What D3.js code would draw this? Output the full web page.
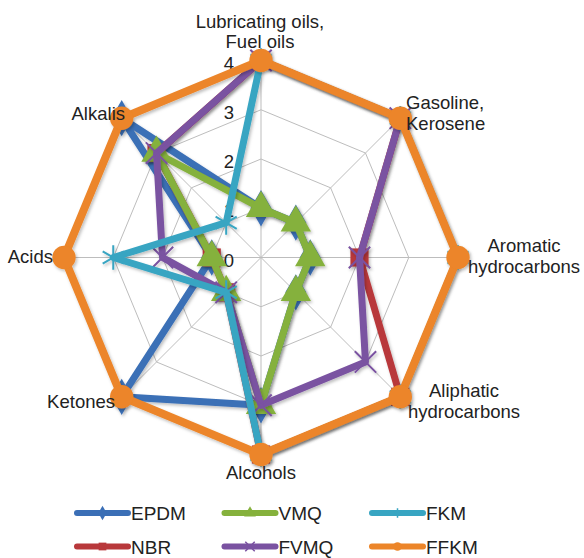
<!DOCTYPE html>
<html>
<head>
<meta charset="utf-8">
<script src="https://cdn.jsdelivr.net/npm/d3@7"></script>
<style>
  html, body { margin: 0; padding: 0; background: #fff; }
  svg { display: block; font-family: "Liberation Sans", Arial, sans-serif; }
</style>
</head>
<body>
<svg id="chart" width="584" height="558"></svg>
<script>
// Media categories, clockwise from the top
const categories = [
  ["Lubricating oils,", "Fuel oils"],
  ["Gasoline,", "Kerosene"],
  ["Aromatic", "hydrocarbons"],
  ["Aliphatic", "hydrocarbons"],
  ["Alcohols"],
  ["Ketones"],
  ["Acids"],
  ["Alkalis"]
];

// Resistance ratings (0 = poor … 4 = excellent) per elastomer
const EPDM = [1, 1, 1, 1, 3, 4, 1, 4];
const NBR  = [4, 4, 2, 4, 4, 1, 1, 3];
const VMQ  = [1, 1, 1, 1, 3, 1, 1, 3];
const FVMQ = [4, 4, 2, 3, 3, 1, 2, 3];
const FKM  = [4, 4, 4, 4, 4, 1, 3, 1];
const FFKM = [4, 4, 4, 4, 4, 4, 4, 4];

const tickValues = [0, 1, 2, 3, 4];

// Series in drawing order (later ones sit on top)
const series = [
  { name: "EPDM", values: EPDM, color: "#3b6fb6", marker: "diamond" },
  { name: "NBR",  values: NBR,  color: "#b8383b", marker: "square" },
  { name: "VMQ",  values: VMQ,  color: "#85b13c", marker: "triangle" },
  { name: "FVMQ", values: FVMQ, color: "#7a52a1", marker: "times" },
  { name: "FKM",  values: FKM,  color: "#38a5c2", marker: "star" },
  { name: "FFKM", values: FFKM, color: "#ec8529", marker: "circle" }
];
// Legend reading order (row by row)
const legendOrder = ["EPDM", "VMQ", "FKM", "NBR", "FVMQ", "FFKM"];

const svg = d3.select("#chart");
const cx = 261, cy = 257.5;
const n = categories.length;

const r = d3.scaleLinear().domain([0, 4]).range([0, 197]);
const angle = d3.scaleLinear().domain([0, n]).range([0, 2 * Math.PI]);

const px = (i, v) => r(v) * Math.sin(angle(i));
const py = (i, v) => -r(v) * Math.cos(angle(i));

const defs = svg.append("defs");
const shadow = defs.append("filter").attr("id", "shadow")
  .attr("x", "-20%").attr("y", "-20%").attr("width", "140%").attr("height", "140%");
shadow.append("feDropShadow").attr("dx", 1.5).attr("dy", 2).attr("stdDeviation", 1.5)
  .attr("flood-color", "#000").attr("flood-opacity", 0.25);

const root = svg.append("g").attr("transform", `translate(${cx},${cy})`);

// Grid: concentric octagons and spokes
const grid = root.append("g").attr("stroke", "#bdbdbd").attr("stroke-width", 1).attr("fill", "none");
tickValues.filter(t => t > 0).forEach(t => {
  grid.append("path").attr("d",
    d3.lineRadial().angle((d, i) => angle(i)).radius(() => r(t)).curve(d3.curveLinearClosed)(categories));
});
categories.forEach((c, i) => {
  grid.append("line").attr("x1", 0).attr("y1", 0).attr("x2", px(i, 4)).attr("y2", py(i, 4));
});

// Axis tick labels along the top spoke
root.append("g").selectAll("text").data(tickValues).join("text")
  .attr("x", -32).attr("y", d => -r(d) + 9)
  .attr("text-anchor", "middle")
  .attr("font-size", 18.5).attr("fill", "#222")
  .text(d => d);

// Marker shapes
function markerPath(type, size) {
  const sym = {
    diamond: d3.symbolDiamond, square: d3.symbolSquare, triangle: d3.symbolTriangle,
    times: d3.symbolTimes, star: d3.symbolAsterisk, circle: d3.symbolCircle
  }[type];
  return d3.symbol().type(sym).size(size)();
}
const markerSize = { diamond: 380, square: 330, triangle: 400, times: 300, star: 420, circle: 430 };
const isStroke = t => t === "times" || t === "star";

const radial = d3.lineRadial().angle((d, i) => angle(i)).radius(d => r(d)).curve(d3.curveLinearClosed);

series.forEach(s => {
  const g = root.append("g").attr("filter", "url(#shadow)");
  g.append("path").attr("d", radial(s.values))
    .attr("fill", "none").attr("stroke", s.color)
    .attr("stroke-width", s.name === "FFKM" ? 8 : 7)
    .attr("stroke-linejoin", "round");
  g.selectAll("path.m").data(s.values).join("path").attr("class", "m")
    .attr("transform", (d, i) => `translate(${px(i, d)},${py(i, d)})`)
    .attr("d", markerPath(s.marker, markerSize[s.marker]))
    .attr("fill", isStroke(s.marker) ? "none" : s.color)
    .attr("stroke", isStroke(s.marker) ? s.color : "none")
    .attr("stroke-width", 2);
});

// Category labels
const labelPos = [
  { x: 260, y: 27.5, anchor: "middle" },
  { x: 406, y: 109, anchor: "start" },
  { x: 524, y: 252, anchor: "middle" },
  { x: 464, y: 397, anchor: "middle" },
  { x: 261, y: 479, anchor: "middle" },
  { x: 115, y: 408, anchor: "end" },
  { x: 53, y: 263, anchor: "end" },
  { x: 125, y: 120, anchor: "end" }
];
const labels = svg.append("g").attr("font-size", 18.5).attr("fill", "#222");
categories.forEach((lines, i) => {
  const t = labels.append("text").attr("x", labelPos[i].x).attr("y", labelPos[i].y)
    .attr("text-anchor", labelPos[i].anchor);
  lines.forEach((l, k) => t.append("tspan").attr("x", labelPos[i].x).attr("dy", k ? 20.5 : 0).text(l));
});

// Legend
const legend = svg.append("g");
legendOrder.forEach((name, k) => {
  const s = series.find(d => d.name === name);
  const col = k % 3, row = Math.floor(k / 3);
  const x0 = 77 + col * 147.5, y0 = 513 + row * 33.5;
  const g = legend.append("g").attr("transform", `translate(${x0},${y0})`);
  g.append("line").attr("x1", 0).attr("x2", 51).attr("y1", 0).attr("y2", 0)
    .attr("stroke", s.color).attr("stroke-width", 6).attr("stroke-linecap", "round");
  g.append("path").attr("transform", "translate(25.5,0)")
    .attr("d", markerPath(s.marker, 60))
    .attr("fill", isStroke(s.marker) ? "none" : s.color)
    .attr("stroke", isStroke(s.marker) ? s.color : "none").attr("stroke-width", 1.5);
  g.append("text").attr("x", 54).attr("y", 7).attr("font-size", 19).attr("fill", "#222").text(s.name);
});
</script>
</body>
</html>
